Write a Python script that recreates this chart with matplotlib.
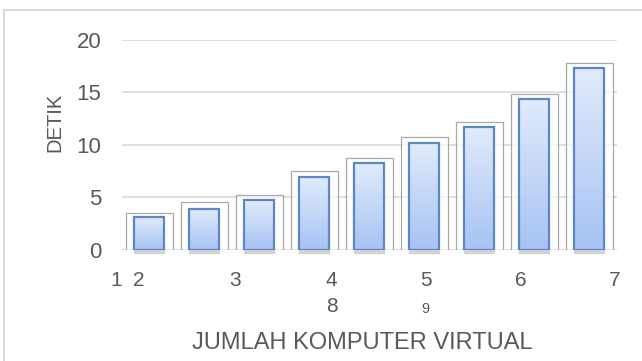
import matplotlib
matplotlib.use("Agg")
import matplotlib.pyplot as plt
import numpy as np
from matplotlib.patches import Rectangle

plt.rcParams["font.family"] = ["Liberation Sans", "DejaVu Sans"]

# data
categories = list(range(9))
inner_values = [3.1, 3.95, 4.75, 6.95, 8.25, 10.2, 11.7, 14.35, 17.3]
outer_values = [3.5, 4.55, 5.2, 7.5, 8.75, 10.75, 12.2, 14.85, 17.8]
# garbled category labels as they appear in the source picture
tick_texts = ["1", "2", "3", "4", "5", "6", "7", "8", "9"]
tick_x = [-0.61, -0.2, 1.56, 3.31, 5.02, 6.75, 8.45, 3.31, 5.02]
tick_row = [0, 0, 0, 0, 0, 0, 0, 1, 1]
yticks = [0, 5, 10, 15, 20]

TEXT = "#595959"
GRID = "#d9d9d9"

fig = plt.figure(figsize=(6.42, 3.61), dpi=100)
ax = fig.add_axes([0.19, 0.3075, 0.771, 0.5817])

ax.set_ylim(0, 20)
ax.set_yticks(yticks)
ax.yaxis.grid(True, color=GRID, linewidth=1.2, zorder=0)
ax.set_axisbelow(True)
for s in ax.spines.values():
    s.set_visible(False)
ax.tick_params(axis="y", length=0, pad=15, labelsize=16, labelcolor=TEXT)
ax.set_xticks([])

# outer frame boxes
ax.bar(categories, outer_values, width=0.87, color="white", alpha=0.75,
       edgecolor="#8c8c8c", linewidth=0.9, zorder=2)

# inner gradient bars
bars = ax.bar(categories, inner_values, width=0.545, color="none",
              edgecolor="#5b87c6", linewidth=1.6, zorder=4)
grad = np.linspace(0, 1, 256).reshape(-1, 1)
cmap = matplotlib.colors.LinearSegmentedColormap.from_list("g", ["#a6c3f3", "#e1ebfb"])
for b in bars:
    x0, w, h = b.get_x(), b.get_width(), b.get_height()
    im = ax.imshow(grad, cmap=cmap, origin="lower", aspect="auto",
                   extent=(x0, x0 + w, 0, h), zorder=3)
    im.set_clip_path(b)
    # faint shadow at the foot of each bar
    ax.add_patch(Rectangle((x0, -0.25), w, 0.25, color="#bfbfbf", alpha=0.6,
                           clip_on=False, zorder=3))
ax.set_xlim(-0.5, 8.5)
ax.set_ylim(0, 20)

# category labels
for t, x, r in zip(tick_texts, tick_x, tick_row):
    y = -0.147 if r == 0 else -0.27
    size = 15 if t != "9" else 10.5
    if t == "9":
        y = -0.28
    ax.text(x, y, t, transform=ax.get_xaxis_transform(), ha="center", va="center",
            fontsize=size, color=TEXT)

fig.text(362 / 642, 1 - 343 / 361, "JUMLAH KOMPUTER VIRTUAL", fontsize=17,
         color=TEXT, ha="center", va="center")
fig.text(55 / 642, 1 - 122 / 361, "DETIK", fontsize=14.5, color=TEXT,
         rotation=90, ha="center", va="center")

# outer chart border
fig.patches.append(Rectangle((4 / 642, -0.1), 1, 1.1 - 10 / 361, transform=fig.transFigure,
                             fill=False, edgecolor=GRID, linewidth=1.5))

fig.savefig("out.png", dpi=100)
